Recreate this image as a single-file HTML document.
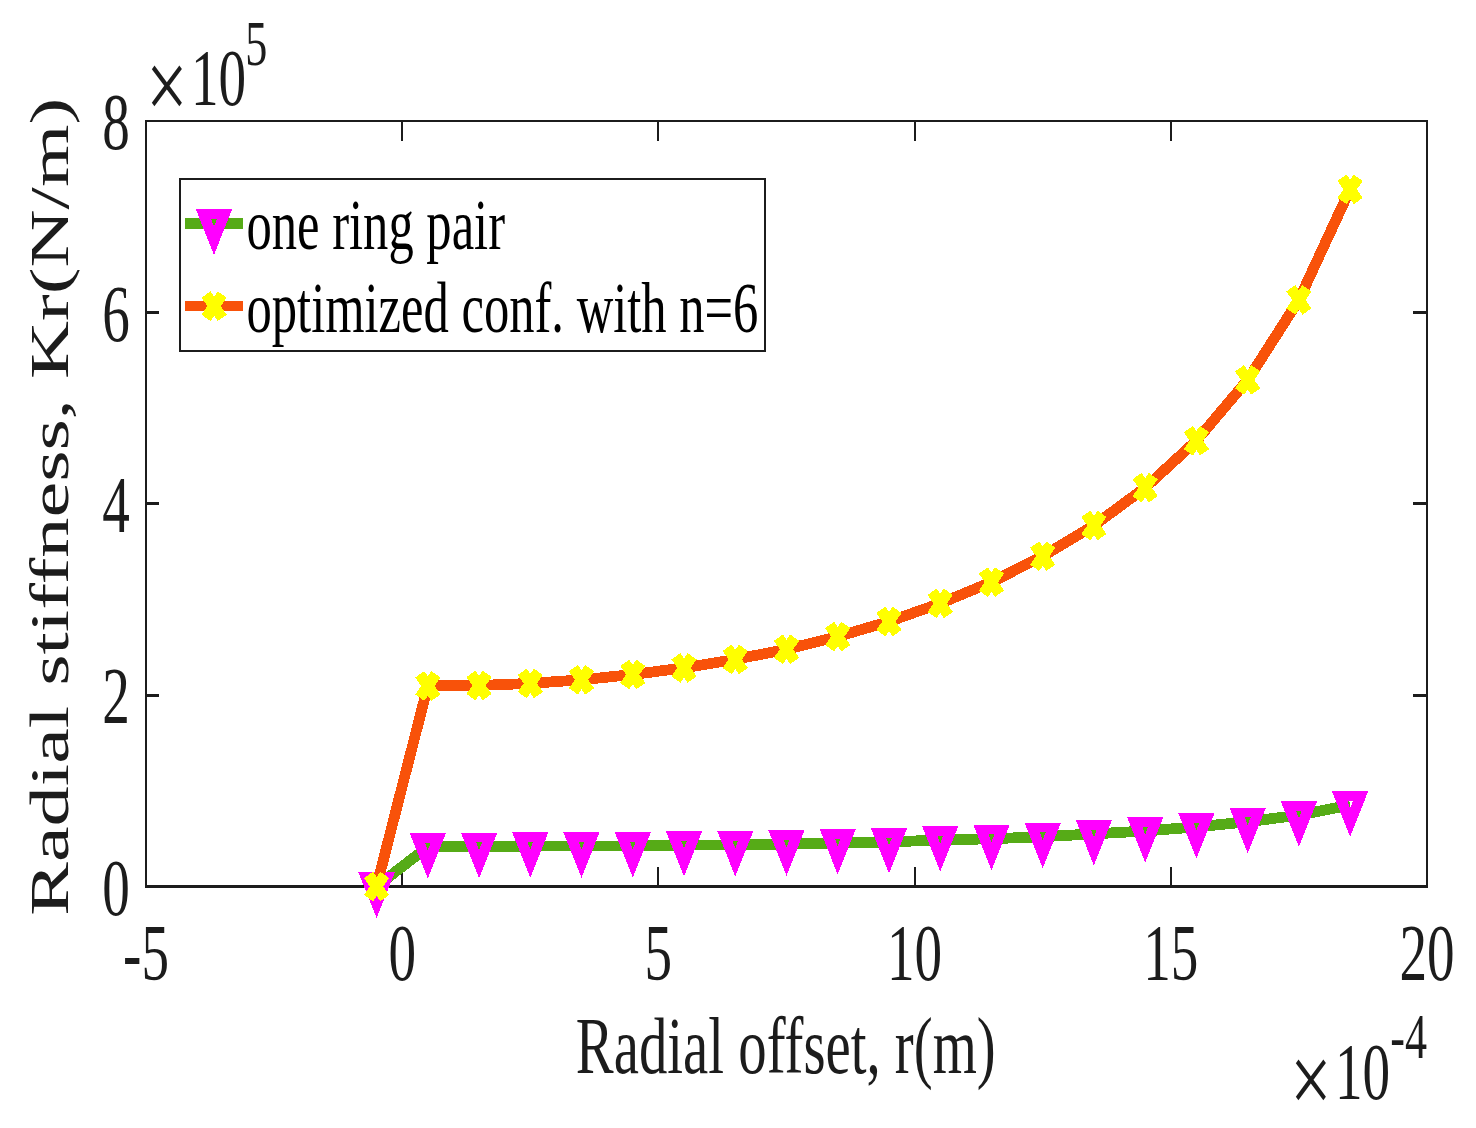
<!DOCTYPE html>
<html lang="en"><head><meta charset="utf-8"><title>Radial stiffness vs radial offset</title>
<style>html,body{margin:0;padding:0;background:#fff;}body{width:1476px;height:1128px;overflow:hidden;}svg{display:block;}text{font-family:"Liberation Serif","Times New Roman",serif;}</style>
</head><body>
<svg width="1476" height="1128" viewBox="0 0 1476 1128">
<rect x="0" y="0" width="1476" height="1128" fill="#ffffff"/>
<g fill="#1c1c1c" shape-rendering="crispEdges">
<rect x="145" y="120" width="2" height="768"/>
<rect x="1426" y="120" width="2" height="768"/>
<rect x="145" y="120" width="1283" height="2"/>
<rect x="145" y="885" width="1283" height="3"/>
<rect x="401" y="867" width="2" height="18"/>
<rect x="401" y="122" width="2" height="19"/>
<rect x="657" y="867" width="2" height="18"/>
<rect x="657" y="122" width="2" height="19"/>
<rect x="914" y="867" width="2" height="18"/>
<rect x="914" y="122" width="2" height="19"/>
<rect x="1170" y="867" width="2" height="18"/>
<rect x="1170" y="122" width="2" height="19"/>
<rect x="147" y="694" width="12" height="3"/>
<rect x="1413" y="694" width="13" height="3"/>
<rect x="147" y="502" width="12" height="3"/>
<rect x="1413" y="502" width="13" height="3"/>
<rect x="147" y="311" width="12" height="3"/>
<rect x="1413" y="311" width="13" height="3"/>
</g>
<g shape-rendering="crispEdges">
<polyline fill="none" stroke="#56AB17" stroke-width="10.8" stroke-linejoin="round" points="376.6,886.3 427.8,846.9 479.1,846.8 530.3,846.0 581.5,846.0 632.8,846.0 684.0,845.0 735.3,844.9 786.5,844.0 837.7,842.9 889.0,841.9 940.2,840.0 991.5,838.8 1042.7,836.7 1093.9,833.9 1145.2,831.0 1196.4,826.9 1247.7,821.8 1298.9,815.1 1350.1,805.0"/>
<path fill="#FF00FF" fill-rule="evenodd" d="M358.4 872.3L394.8 872.3L376.6 917.9ZM373.7 881.9L379.5 881.9L376.6 889.7Z"/>
<path fill="#FF00FF" fill-rule="evenodd" d="M409.6 832.9L446.0 832.9L427.8 878.5ZM424.9 842.5L430.7 842.5L427.8 850.3Z"/>
<path fill="#FF00FF" fill-rule="evenodd" d="M460.9 832.8L497.3 832.8L479.1 878.4ZM476.2 842.4L482.0 842.4L479.1 850.2Z"/>
<path fill="#FF00FF" fill-rule="evenodd" d="M512.1 832.0L548.5 832.0L530.3 877.6ZM527.4 841.6L533.2 841.6L530.3 849.4Z"/>
<path fill="#FF00FF" fill-rule="evenodd" d="M563.3 832.0L599.7 832.0L581.5 877.6ZM578.6 841.6L584.4 841.6L581.5 849.4Z"/>
<path fill="#FF00FF" fill-rule="evenodd" d="M614.6 832.0L651.0 832.0L632.8 877.6ZM629.9 841.6L635.7 841.6L632.8 849.4Z"/>
<path fill="#FF00FF" fill-rule="evenodd" d="M665.8 831.0L702.2 831.0L684.0 876.6ZM681.1 840.6L686.9 840.6L684.0 848.4Z"/>
<path fill="#FF00FF" fill-rule="evenodd" d="M717.1 830.9L753.5 830.9L735.3 876.5ZM732.4 840.5L738.2 840.5L735.3 848.3Z"/>
<path fill="#FF00FF" fill-rule="evenodd" d="M768.3 830.0L804.7 830.0L786.5 875.6ZM783.6 839.6L789.4 839.6L786.5 847.4Z"/>
<path fill="#FF00FF" fill-rule="evenodd" d="M819.5 828.9L855.9 828.9L837.7 874.5ZM834.8 838.5L840.6 838.5L837.7 846.3Z"/>
<path fill="#FF00FF" fill-rule="evenodd" d="M870.8 827.9L907.2 827.9L889.0 873.5ZM886.1 837.5L891.9 837.5L889.0 845.3Z"/>
<path fill="#FF00FF" fill-rule="evenodd" d="M922.0 826.0L958.4 826.0L940.2 871.6ZM937.3 835.6L943.1 835.6L940.2 843.4Z"/>
<path fill="#FF00FF" fill-rule="evenodd" d="M973.3 824.8L1009.7 824.8L991.5 870.4ZM988.6 834.4L994.4 834.4L991.5 842.2Z"/>
<path fill="#FF00FF" fill-rule="evenodd" d="M1024.5 822.7L1060.9 822.7L1042.7 868.3ZM1039.8 832.3L1045.6 832.3L1042.7 840.1Z"/>
<path fill="#FF00FF" fill-rule="evenodd" d="M1075.7 819.9L1112.1 819.9L1093.9 865.5ZM1091.0 829.5L1096.8 829.5L1093.9 837.3Z"/>
<path fill="#FF00FF" fill-rule="evenodd" d="M1127.0 817.0L1163.4 817.0L1145.2 862.6ZM1142.3 826.6L1148.1 826.6L1145.2 834.4Z"/>
<path fill="#FF00FF" fill-rule="evenodd" d="M1178.2 812.9L1214.6 812.9L1196.4 858.5ZM1193.5 822.5L1199.3 822.5L1196.4 830.3Z"/>
<path fill="#FF00FF" fill-rule="evenodd" d="M1229.5 807.8L1265.9 807.8L1247.7 853.4ZM1244.8 817.4L1250.6 817.4L1247.7 825.2Z"/>
<path fill="#FF00FF" fill-rule="evenodd" d="M1280.7 801.1L1317.1 801.1L1298.9 846.7ZM1296.0 810.7L1301.8 810.7L1298.9 818.5Z"/>
<path fill="#FF00FF" fill-rule="evenodd" d="M1331.9 791.0L1368.3 791.0L1350.1 836.6ZM1347.2 800.6L1353.0 800.6L1350.1 808.4Z"/>
<polyline fill="none" stroke="#F8520A" stroke-width="10.8" stroke-linejoin="round" points="376.6,886.5 427.8,686.0 479.1,685.5 530.3,683.4 581.5,679.8 632.8,674.5 684.0,667.9 735.3,659.4 786.5,649.3 837.7,636.6 889.0,621.5 940.2,603.4 991.5,582.1 1042.7,556.2 1093.9,525.5 1145.2,487.7 1196.4,440.7 1247.7,379.9 1298.9,299.9 1350.1,189.4"/>
<path stroke="#FFFF00" stroke-width="11" fill="none" d="M368.48 874.85L384.68 898.15M368.48 898.15L384.68 874.85"/>
<path stroke="#FFFF00" stroke-width="11" fill="none" d="M419.72 674.35L435.92 697.65M419.72 697.65L435.92 674.35"/>
<path stroke="#FFFF00" stroke-width="11" fill="none" d="M470.96 673.85L487.16 697.15M470.96 697.15L487.16 673.85"/>
<path stroke="#FFFF00" stroke-width="11" fill="none" d="M522.20 671.75L538.40 695.05M522.20 695.05L538.40 671.75"/>
<path stroke="#FFFF00" stroke-width="11" fill="none" d="M573.44 668.15L589.64 691.45M573.44 691.45L589.64 668.15"/>
<path stroke="#FFFF00" stroke-width="11" fill="none" d="M624.68 662.85L640.88 686.15M624.68 686.15L640.88 662.85"/>
<path stroke="#FFFF00" stroke-width="11" fill="none" d="M675.92 656.25L692.12 679.55M675.92 679.55L692.12 656.25"/>
<path stroke="#FFFF00" stroke-width="11" fill="none" d="M727.16 647.75L743.36 671.05M727.16 671.05L743.36 647.75"/>
<path stroke="#FFFF00" stroke-width="11" fill="none" d="M778.40 637.65L794.60 660.95M778.40 660.95L794.60 637.65"/>
<path stroke="#FFFF00" stroke-width="11" fill="none" d="M829.64 624.95L845.84 648.25M829.64 648.25L845.84 624.95"/>
<path stroke="#FFFF00" stroke-width="11" fill="none" d="M880.88 609.85L897.08 633.15M880.88 633.15L897.08 609.85"/>
<path stroke="#FFFF00" stroke-width="11" fill="none" d="M932.12 591.75L948.32 615.05M932.12 615.05L948.32 591.75"/>
<path stroke="#FFFF00" stroke-width="11" fill="none" d="M983.36 570.45L999.56 593.75M983.36 593.75L999.56 570.45"/>
<path stroke="#FFFF00" stroke-width="11" fill="none" d="M1034.60 544.55L1050.80 567.85M1034.60 567.85L1050.80 544.55"/>
<path stroke="#FFFF00" stroke-width="11" fill="none" d="M1085.84 513.85L1102.04 537.15M1085.84 537.15L1102.04 513.85"/>
<path stroke="#FFFF00" stroke-width="11" fill="none" d="M1137.08 476.05L1153.28 499.35M1137.08 499.35L1153.28 476.05"/>
<path stroke="#FFFF00" stroke-width="11" fill="none" d="M1188.32 429.05L1204.52 452.35M1188.32 452.35L1204.52 429.05"/>
<path stroke="#FFFF00" stroke-width="11" fill="none" d="M1239.56 368.25L1255.76 391.55M1239.56 391.55L1255.76 368.25"/>
<path stroke="#FFFF00" stroke-width="11" fill="none" d="M1290.80 288.25L1307.00 311.55M1290.80 311.55L1307.00 288.25"/>
<path stroke="#FFFF00" stroke-width="11" fill="none" d="M1342.04 177.75L1358.24 201.05M1342.04 201.05L1358.24 177.75"/>
</g>
<g shape-rendering="crispEdges">
<rect x="180" y="179" width="585" height="172" fill="#ffffff" stroke="#1c1c1c" stroke-width="2"/>
<rect x="185" y="218" width="58" height="11" fill="#56AB17"/>
<path fill="#FF00FF" fill-rule="evenodd" d="M195.8 209.2L232.2 209.2L214.0 254.8ZM211.1 218.8L216.9 218.8L214.0 226.6Z"/>
<rect x="185" y="301" width="58" height="10" fill="#F8520A"/>
<path stroke="#FFFF00" stroke-width="11" fill="none" d="M206.00 294.55L222.20 317.85M206.00 317.85L222.20 294.55"/>
</g>
<text transform="translate(246.50,249.00) scale(0.6980,1)" font-size="72.50" text-anchor="start" fill="#000000">one ring pair</text>
<text transform="translate(246.50,332.00) scale(0.6980,1)" font-size="72.50" text-anchor="start" fill="#000000">optimized conf. with n=6</text>
<text transform="translate(146.00,980.20) scale(0.6900,1)" font-size="80.00" text-anchor="middle" fill="#1c1c1c">-5</text>
<text transform="translate(402.20,980.20) scale(0.6900,1)" font-size="80.00" text-anchor="middle" fill="#1c1c1c">0</text>
<text transform="translate(658.40,980.20) scale(0.6900,1)" font-size="80.00" text-anchor="middle" fill="#1c1c1c">5</text>
<text transform="translate(914.60,980.20) scale(0.6900,1)" font-size="80.00" text-anchor="middle" fill="#1c1c1c">10</text>
<text transform="translate(1170.80,980.20) scale(0.6900,1)" font-size="80.00" text-anchor="middle" fill="#1c1c1c">15</text>
<text transform="translate(1427.00,980.20) scale(0.6900,1)" font-size="80.00" text-anchor="middle" fill="#1c1c1c">20</text>
<text transform="translate(129.80,914.70) scale(0.6900,1)" font-size="80.00" text-anchor="end" fill="#1c1c1c">0</text>
<text transform="translate(129.80,723.33) scale(0.6900,1)" font-size="80.00" text-anchor="end" fill="#1c1c1c">2</text>
<text transform="translate(129.80,531.95) scale(0.6900,1)" font-size="80.00" text-anchor="end" fill="#1c1c1c">4</text>
<text transform="translate(129.80,340.57) scale(0.6900,1)" font-size="80.00" text-anchor="end" fill="#1c1c1c">6</text>
<text transform="translate(129.80,149.20) scale(0.6900,1)" font-size="80.00" text-anchor="end" fill="#1c1c1c">8</text>
<text transform="translate(785.80,1072.90) scale(0.7097,1)" font-size="80.00" text-anchor="middle" fill="#1c1c1c">Radial offset, r(m)</text>
<text transform="translate(68,506.75) rotate(-90) scale(1,0.69)" font-size="80.4" text-anchor="middle" fill="#1c1c1c">Radial stiffness, Kr(N/m)</text>
<text transform="translate(146.1,118.8) scale(0.735,1)" font-size="100.5" fill="#1c1c1c">×</text>
<text transform="translate(191,105) scale(0.690,1)" font-size="80" fill="#1c1c1c">10<tspan font-size="64" dy="-40.2" dx="-1.5">5</tspan></text>
<text transform="translate(1290.1,1113) scale(0.735,1)" font-size="100.5" fill="#1c1c1c">×</text>
<text transform="translate(1427,1099.2) scale(0.690,1)" font-size="80" text-anchor="end" fill="#1c1c1c">10<tspan font-size="64" dy="-41">-4</tspan></text>
</svg>
</body></html>
